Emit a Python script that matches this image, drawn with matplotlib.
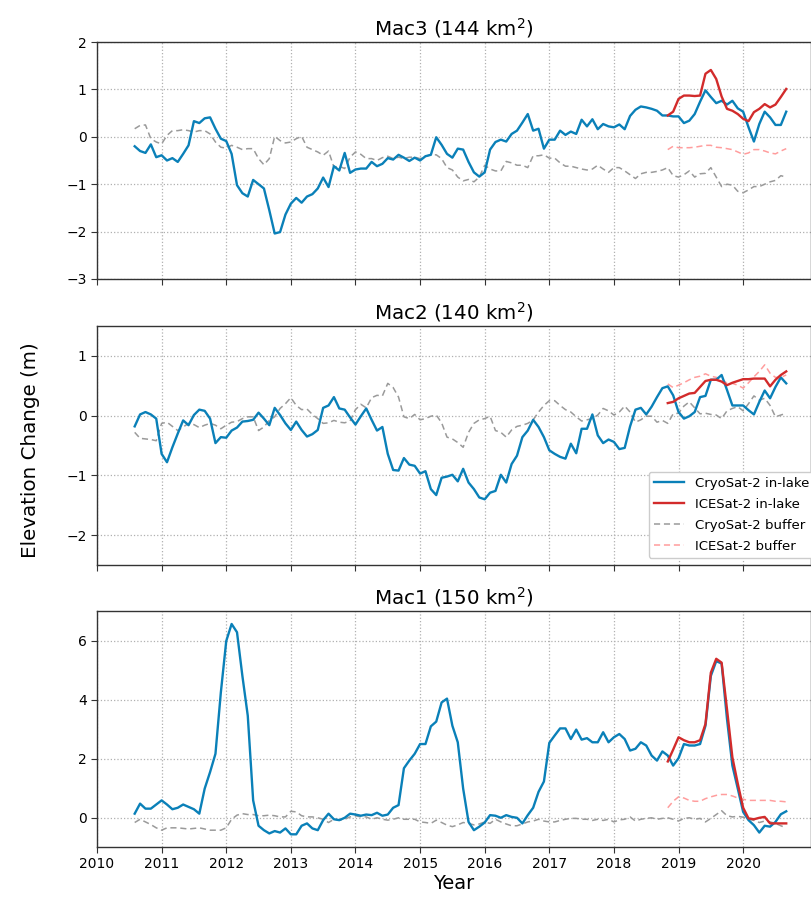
import numpy as np
import matplotlib
matplotlib.use("Agg")
import matplotlib.pyplot as plt

# Monthly time axis: Aug 2010 .. Sep 2020 (CryoSat-2), Nov 2018 .. Sep 2020 (ICESat-2)
t_cs2 = 2010 + 7/12 + np.arange(122) / 12.0
t_is2 = t_cs2[99:]

# ---------------- Mac3 ----------------
mac3_cs2_lake = [-0.20, -0.30, -0.34, -0.16, -0.43, -0.39, -0.50, -0.45, -0.53, -0.36,
                 -0.18, 0.33, 0.29, 0.39, 0.41, 0.17, -0.04, -0.09, -0.36, -1.02,
                 -1.19, -1.26, -0.91, -1.00, -1.09, -1.55, -2.04, -2.01, -1.64, -1.41,
                 -1.29, -1.39, -1.26, -1.21, -1.09, -0.86, -1.06, -0.62, -0.71, -0.34,
                 -0.76, -0.69, -0.67, -0.67, -0.53, -0.62, -0.57, -0.45, -0.48, -0.38,
                 -0.44, -0.51, -0.44, -0.50, -0.41, -0.38, -0.01, -0.17, -0.36, -0.44,
                 -0.25, -0.27, -0.53, -0.75, -0.84, -0.75, -0.27, -0.11, -0.06, -0.10,
                 0.06, 0.13, 0.30, 0.48, 0.13, 0.17, -0.25, -0.06, -0.06, 0.13,
                 0.04, 0.11, 0.06, 0.36, 0.22, 0.37, 0.16, 0.27, 0.22, 0.20,
                 0.26, 0.16, 0.44, 0.57, 0.64, 0.62, 0.59, 0.55, 0.45, 0.45,
                 0.43, 0.43, 0.29, 0.34, 0.48, 0.74, 0.98, 0.84, 0.71, 0.76,
                 0.68, 0.76, 0.60, 0.53, 0.20, -0.10, 0.27, 0.53, 0.41, 0.25,
                 0.25, 0.53]
mac3_cs2_buf = [0.17, 0.24, 0.25, -0.04, -0.11, -0.15, 0.03, 0.13, 0.13, 0.15,
                0.13, 0.10, 0.13, 0.13, 0.06, -0.11, -0.22, -0.24, -0.18, -0.22,
                -0.27, -0.25, -0.25, -0.46, -0.59, -0.46, 0.01, -0.08, -0.13, -0.11,
                -0.04, 0.01, -0.22, -0.27, -0.32, -0.39, -0.30, -0.64, -0.62, -0.67,
                -0.43, -0.32, -0.37, -0.46, -0.46, -0.50, -0.44, -0.41, -0.46, -0.43,
                -0.46, -0.43, -0.43, -0.46, -0.41, -0.38, -0.38, -0.46, -0.65, -0.70,
                -0.85, -0.93, -0.90, -0.95, -0.85, -0.60, -0.68, -0.72, -0.72, -0.52,
                -0.55, -0.60, -0.60, -0.65, -0.40, -0.40, -0.38, -0.45, -0.45, -0.55,
                -0.62, -0.62, -0.65, -0.68, -0.70, -0.68, -0.60, -0.68, -0.75, -0.65,
                -0.65, -0.72, -0.80, -0.88, -0.78, -0.75, -0.75, -0.73, -0.70, -0.65,
                -0.82, -0.85, -0.80, -0.72, -0.85, -0.78, -0.77, -0.65, -0.85, -1.05,
                -1.00, -1.02, -1.15, -1.18, -1.12, -1.05, -1.05, -1.00, -0.95, -0.92,
                -0.82, -0.85]
mac3_is2_lake = [0.45, 0.53, 0.80, 0.87, 0.87, 0.86, 0.87, 1.33, 1.41, 1.22,
                 0.85, 0.59, 0.55, 0.48, 0.38, 0.33, 0.52, 0.59, 0.69, 0.62,
                 0.68, 0.84, 1.01]
mac3_is2_buf = [-0.27, -0.20, -0.23, -0.23, -0.23, -0.22, -0.20, -0.18, -0.18, -0.22,
                -0.23, -0.25, -0.27, -0.32, -0.37, -0.34, -0.27, -0.27, -0.30, -0.34,
                -0.36, -0.30, -0.25]

# ---------------- Mac2 ----------------
mac2_cs2_lake = [-0.18, 0.02, 0.06, 0.02, -0.05, -0.64, -0.78, -0.53, -0.30, -0.08,
                 -0.16, 0.01, 0.10, 0.08, -0.05, -0.46, -0.36, -0.37, -0.25, -0.20,
                 -0.10, -0.09, -0.07, 0.05, -0.05, -0.16, 0.13, 0.01, -0.13, -0.24,
                 -0.10, -0.24, -0.35, -0.31, -0.24, 0.13, 0.17, 0.31, 0.12, 0.10,
                 -0.03, -0.15, -0.01, 0.12, -0.07, -0.25, -0.19, -0.64, -0.91, -0.92,
                 -0.71, -0.82, -0.84, -0.97, -0.93, -1.23, -1.33, -1.04, -1.02, -0.99,
                 -1.10, -0.89, -1.12, -1.23, -1.37, -1.40, -1.29, -1.26, -0.99, -1.12,
                 -0.81, -0.67, -0.36, -0.25, -0.07, -0.19, -0.36, -0.58, -0.64, -0.69,
                 -0.72, -0.47, -0.63, -0.22, -0.22, 0.02, -0.33, -0.46, -0.40, -0.44,
                 -0.56, -0.54, -0.18, 0.10, 0.13, 0.02, 0.15, 0.31, 0.46, 0.49,
                 0.34, 0.06, -0.05, -0.01, 0.06, 0.31, 0.33, 0.60, 0.60, 0.68,
                 0.43, 0.17, 0.17, 0.17, 0.09, 0.02, 0.23, 0.42, 0.29, 0.48,
                 0.64, 0.54]
mac2_cs2_buf = [-0.28, -0.38, -0.39, -0.40, -0.42, -0.13, -0.11, -0.18, -0.25, -0.19,
                -0.13, -0.15, -0.20, -0.16, -0.13, -0.16, -0.22, -0.16, -0.11, -0.10,
                -0.05, -0.02, -0.02, -0.25, -0.19, -0.08, -0.02, 0.12, 0.20, 0.30,
                0.17, 0.10, 0.11, 0.02, -0.05, -0.13, -0.12, -0.08, -0.11, -0.12,
                -0.09, 0.10, 0.19, 0.13, 0.30, 0.34, 0.33, 0.54, 0.47, 0.31,
                -0.02, -0.05, 0.02, -0.07, -0.05, -0.01, 0.01, -0.12, -0.36, -0.39,
                -0.45, -0.53, -0.28, -0.13, -0.07, -0.05, -0.01, -0.25, -0.28, -0.36,
                -0.24, -0.18, -0.16, -0.13, -0.07, 0.06, 0.17, 0.25, 0.25, 0.17,
                0.10, 0.06, -0.02, -0.09, -0.07, -0.05, 0.01, 0.12, 0.08, 0.01,
                0.06, 0.16, 0.06, -0.11, -0.07, -0.01, -0.01, -0.11, -0.08, -0.13,
                0.03, 0.04, 0.16, 0.23, 0.13, 0.03, 0.04, 0.02, 0.01, -0.05,
                0.08, 0.12, 0.15, 0.08, 0.20, 0.33, 0.26, 0.29, 0.17, -0.02,
                0.01, 0.04]
mac2_is2_lake = [0.21, 0.23, 0.29, 0.33, 0.37, 0.38, 0.48, 0.58, 0.60, 0.60,
                 0.57, 0.51, 0.55, 0.58, 0.61, 0.61, 0.62, 0.62, 0.62, 0.49,
                 0.60, 0.68, 0.74]
mac2_is2_buf = [0.53, 0.47, 0.51, 0.55, 0.60, 0.64, 0.66, 0.70, 0.66, 0.64,
                0.62, 0.54, 0.54, 0.51, 0.46, 0.55, 0.65, 0.74, 0.85, 0.71,
                0.64, 0.64, 0.68]

# ---------------- Mac1 ----------------
mac1_cs2_lake = [0.13, 0.47, 0.30, 0.30, 0.44, 0.58, 0.44, 0.28, 0.33, 0.44,
                 0.36, 0.28, 0.13, 0.98, 1.54, 2.16, 4.24, 5.98, 6.56, 6.28,
                 4.80, 3.45, 0.58, -0.28, -0.43, -0.54, -0.46, -0.51, -0.37, -0.57,
                 -0.57, -0.28, -0.20, -0.37, -0.43, -0.09, 0.13, -0.06, -0.09, -0.01,
                 0.13, 0.10, 0.06, 0.10, 0.08, 0.16, 0.06, 0.10, 0.33, 0.42,
                 1.67, 1.93, 2.16, 2.49, 2.49, 3.09, 3.25, 3.90, 4.03, 3.11,
                 2.55, 0.98, -0.15, -0.43, -0.31, -0.17, 0.08, 0.06, -0.01, 0.08,
                 0.02, -0.01, -0.20, 0.08, 0.33, 0.87, 1.22, 2.53, 2.78, 3.02,
                 3.02, 2.66, 2.98, 2.64, 2.69, 2.55, 2.55, 2.89, 2.55, 2.72,
                 2.83, 2.66, 2.27, 2.33, 2.55, 2.44, 2.10, 1.93, 2.24, 2.10,
                 1.76, 2.01, 2.49, 2.44, 2.44, 2.49, 3.11, 4.80, 5.30, 5.22,
                 3.34, 1.76, 0.98, 0.19, -0.09, -0.26, -0.51, -0.28, -0.31, -0.15,
                 0.11, 0.21]
mac1_cs2_buf = [-0.17, -0.06, -0.15, -0.24, -0.35, -0.43, -0.35, -0.35, -0.35, -0.37,
                -0.39, -0.37, -0.35, -0.39, -0.43, -0.43, -0.43, -0.35, -0.06, 0.08,
                0.13, 0.10, 0.10, 0.06, 0.06, 0.08, 0.06, 0.02, 0.02, 0.21,
                0.19, 0.06, 0.02, 0.02, -0.01, -0.06, -0.17, -0.06, -0.09, -0.06,
                0.02, 0.06, 0.02, 0.02, -0.06, -0.01, -0.06, -0.09, -0.06, -0.01,
                -0.06, -0.06, -0.06, -0.15, -0.17, -0.20, -0.09, -0.17, -0.26, -0.31,
                -0.25, -0.17, -0.20, -0.25, -0.22, -0.15, -0.20, -0.06, -0.15, -0.22,
                -0.28, -0.28, -0.22, -0.15, -0.12, -0.06, -0.12, -0.15, -0.15, -0.10,
                -0.06, -0.03, -0.03, -0.06, -0.06, -0.10, -0.06, -0.10, -0.06, -0.15,
                -0.08, -0.06, 0.02, -0.12, -0.06, -0.03, -0.01, -0.06, -0.03, -0.01,
                -0.06, -0.12, -0.03, -0.01, -0.06, -0.03, -0.15, -0.03, 0.10, 0.23,
                0.06, 0.02, 0.04, 0.01, -0.06, -0.10, -0.17, -0.12, -0.15, -0.20,
                -0.28, -0.35]
mac1_is2_lake = [1.90, 2.30, 2.72, 2.62, 2.55, 2.55, 2.62, 3.17, 4.91, 5.38,
                 5.25, 3.67, 2.04, 1.15, 0.33, -0.03, -0.06, -0.01, 0.02, -0.20,
                 -0.20, -0.20, -0.20]
mac1_is2_buf = [0.33, 0.55, 0.70, 0.66, 0.58, 0.55, 0.55, 0.64, 0.70, 0.75,
                0.78, 0.78, 0.73, 0.66, 0.62, 0.58, 0.58, 0.58, 0.58, 0.58,
                0.55, 0.55, 0.53]

titles = ["Mac3 (144 km$^2$)", "Mac2 (140 km$^2$)", "Mac1 (150 km$^2$)"]
ylims = [(-3, 2), (-2.5, 1.5), (-1, 7)]
yticks = [[-3, -2, -1, 0, 1, 2], [-2, -1, 0, 1], [0, 2, 4, 6]]
xticks = list(range(2010, 2021))
legend_labels = ["CryoSat-2 in-lake", "ICESat-2 in-lake", "CryoSat-2 buffer", "ICESat-2 buffer"]

data = [
    (mac3_cs2_lake, mac3_is2_lake, mac3_cs2_buf, mac3_is2_buf),
    (mac2_cs2_lake, mac2_is2_lake, mac2_cs2_buf, mac2_is2_buf),
    (mac1_cs2_lake, mac1_is2_lake, mac1_cs2_buf, mac1_is2_buf),
]

plt.rcParams['font.family'] = ['DejaVu Sans']
W, H = 811, 898
fig = plt.figure(figsize=(W / 100, H / 100), dpi=100)

boxes = [(42, 279), (326, 565), (611, 847)]
left_px, right_px = 97, 811

C_BLUE = '#0a80b8'
C_RED = '#d22b2b'
C_GRAY = '#9a9a9a'
C_PINK = '#ff9d9d'

axes = []
for i, (top, bot) in enumerate(boxes):
    ax = fig.add_axes([left_px / W, 1 - bot / H, (right_px - left_px) / W, (bot - top) / H])
    axes.append(ax)
    cs_l, is_l, cs_b, is_b = data[i]
    ax.plot(t_cs2, cs_b, color=C_GRAY, lw=1.1, ls=(0, (4, 2.5)), label=legend_labels[2], zorder=2)
    ax.plot(t_is2, is_b, color=C_PINK, lw=1.1, ls=(0, (4, 2.5)), label=legend_labels[3], zorder=2)
    ax.plot(t_cs2, cs_l, color=C_BLUE, lw=1.7, label=legend_labels[0], zorder=3)
    ax.plot(t_is2, is_l, color=C_RED, lw=1.7, label=legend_labels[1], zorder=4)
    ax.set_xlim(2010, 2021.05)
    ax.set_ylim(*ylims[i])
    ax.set_yticks(yticks[i])
    ax.set_xticks(xticks)
    ax.grid(True, ls=':', color='#b0b0b0', lw=0.9)
    ax.set_axisbelow(True)
    ax.tick_params(direction='out', length=4, labelsize=10, color='#333333')
    ax.set_title(titles[i], fontsize=14.3, pad=5)
    for s in ax.spines.values():
        s.set_color('#333333')
        s.set_linewidth(1.0)
    if i < 2:
        ax.tick_params(labelbottom=False)

# legend in middle panel
h, l = axes[1].get_legend_handles_labels()
hd = dict(zip(l, h))
axes[1].legend([hd[k] for k in legend_labels], legend_labels, loc='lower right',
               bbox_to_anchor=(1.005, 0.03), borderaxespad=0, fontsize=9.5,
               framealpha=1.0, edgecolor='#cccccc', fancybox=True, handlelength=2.3,
               labelspacing=0.6)

axes[2].set_xlabel("Year", fontsize=14, labelpad=2)
fig.text(30 / W, 1 - 450 / H, "Elevation Change (m)", rotation=90, fontsize=14.3,
         ha='center', va='center')

fig.savefig("out.png", dpi=100)
